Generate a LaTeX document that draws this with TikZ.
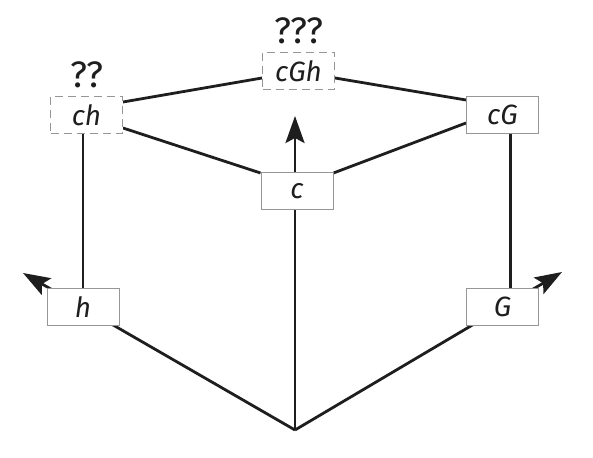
\documentclass[tikz,border=0pt]{standalone}
\usepackage{fontspec}
\setmainfont{Fira Sans}
\usetikzlibrary{arrows.meta,calc}
\pgfdeclarelayer{bg}
\pgfsetlayers{bg,main}
\definecolor{boxgray}{RGB}{150,150,150}
\definecolor{ink}{RGB}{30,30,30}
\begin{document}
\begin{tikzpicture}[x=1bp,y=-1bp,
  box/.style={draw=boxgray, line width=1bp, fill=white, minimum width=72bp, minimum height=37bp, inner sep=0pt, font=\fontsize{28}{28}\selectfont\itshape, text=ink},
  dbox/.style={box, dash pattern=on 8bp off 5bp},
  qlabel/.style={inner sep=0pt, font=\fontsize{37}{37}\selectfont, text=ink},
  edge/.style={line width=2.8bp, draw=ink},
  arr/.style={edge, -{Stealth[length=27bp,width=19bp,inset=5bp]}}]
\useasboundingbox (0,0) rectangle (593,458);
\coordinate (O) at (295,430);
\coordinate (th) at (23,273);
\coordinate (tG) at (562,272);
\coordinate (tc) at (295,116);
\node[dbox] (cGh) at (298.5,71) {cGh};
\node[dbox] (ch) at (86.5,115) {ch};
\node[box] (cG) at (502.5,115) {cG};
\node[box] (c) at (297,191) {c};
\node[box] (h) at (83,307) {h};
\node[box] (G) at (502.5,307) {G};
\node[qlabel] (q2) at (87,75) {??};
\node[qlabel] (q3) at (299,31) {???};
\begin{pgfonlayer}{bg}
\draw[arr] (O) -- (th);
\draw[arr] (O) -- (tG);
\draw[arr] (O) -- (tc);
\draw[edge] (h.north) -- (h.north |- ch.south);
\draw[edge] ($(G.north)+(8,0)$) -- ($(cG.south)+(8,0)$);
\draw[edge] ($(ch.east)+(0,-13)$) -- ($(cGh.west)+(0,7)$);
\draw[edge] ($(cGh.east)+(0,7)$) -- ($(cG.west)+(0,-15)$);
\draw[edge] ($(ch.east)+(0,13)$) -- ($(c.north west)+(0,1)$);
\draw[edge] ($(c.north east)+(0,1)$) -- ($(cG.west)+(0,8)$);
\end{pgfonlayer}
\end{tikzpicture}
\end{document}
